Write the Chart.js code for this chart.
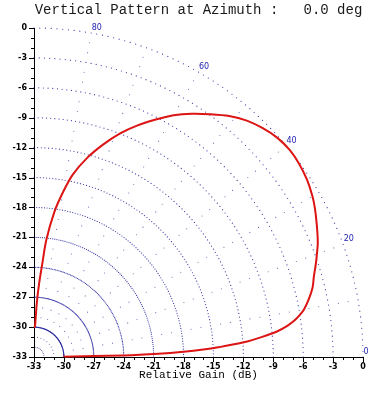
<!DOCTYPE html>
<html>
<head>
<meta charset="utf-8">
<script src="https://cdn.jsdelivr.net/npm/chart.js@4.4.0/dist/chart.umd.min.js"></script>
<style>
  html, body { margin: 0; padding: 0; background: #fff; }
</style>
</head>
<body>
<canvas id="pattern" width="375" height="397"></canvas>
<script>
// Vertical pattern: elevation angle (deg) vs relative gain (dB)
const elevations = [0, 0.5, 1, 1.5, 2, 2.5, 3, 4, 5, 6, 7, 8, 9, 10, 12, 14, 16, 18, 20, 22, 25, 28, 30, 33, 36, 39,
  42, 45, 48, 51, 54, 57, 60, 63, 66, 69, 72, 75, 78, 80, 82, 84, 85, 86, 87, 88, 89, 90];
const gains = [-30, -30, -24, -20.5, -18, -16, -14.5, -11.9, -10.1, -8.5, -7.4, -6.6, -6.0, -5.5, -4.8, -4.2, -3.8, -3.3, -2.8, -2.3, -1.7, -1.1, -0.75, -0.35, -0.1, 0,
  -0.15, -0.55, -1.1, -1.9, -2.9, -3.9, -5.0, -6.3, -7.6, -9.0, -10.6, -12.3, -14.3, -16.2, -18.3, -21.2, -23.8, -25.6, -27.5, -29.8, -30, -30];

// axes / grid
const floorDb = -33;
const gainTicks = [-33, -30, -27, -24, -21, -18, -15, -12, -9, -6, -3, 0];
const ringRadii = [3, 6, 9, 12, 15, 18, 21, 24, 27, 30, 33];
const spokeAngles = [10, 20, 30, 40, 50, 60, 70, 80];
const angleLabels = [80, 60, 40, 20, 0];

// polar (elevation, dB) -> x/y in dB, centred on the bottom-left corner
function toXY(deg, db) {
  const r = db - floorDb;
  const a = deg * Math.PI / 180;
  return { x: floorDb + r * Math.cos(a), y: floorDb + r * Math.sin(a) };
}

const patternPoints = elevations.map((e, i) => toXY(e, gains[i]));

const ringPoints = [];
ringRadii.forEach(r => {
  for (let d = 0; d <= 90; d++) ringPoints.push(toXY(d, floorDb + r));
});

const spokePoints = [];
spokeAngles.forEach(d => {
  for (let r = 1; r <= 33; r++) {
    if (r % 3 !== 0) spokePoints.push(toXY(d, floorDb + r));
  }
});

// minor ticks, angle labels
const polarExtras = {
  id: 'polarExtras',
  afterDraw(chart) {
    const { ctx, chartArea: area, scales: { x, y } } = chart;
    ctx.save();
    ctx.strokeStyle = '#000';
    ctx.lineWidth = 1;
    ctx.beginPath();
    for (let v = floorDb; v <= 0; v++) {
      const len = v % 3 === 0 ? 5 : 3;
      const px = Math.round(x.getPixelForValue(v)) + 0.5;
      ctx.moveTo(px, area.bottom);
      ctx.lineTo(px, area.bottom + len);
      const py = Math.round(y.getPixelForValue(v)) + 0.5;
      ctx.moveTo(area.left, py);
      ctx.lineTo(area.left - len, py);
    }
    ctx.stroke();

    ctx.fillStyle = '#1c1cb0';
    ctx.font = '8px "DejaVu Sans"';
    ctx.textAlign = 'left';
    ctx.textBaseline = 'alphabetic';
    angleLabels.forEach(deg => {
      const p = toXY(deg, 0);
      ctx.fillText(String(deg), x.getPixelForValue(p.x) + 0.5, y.getPixelForValue(p.y) - 3);
    });
    ctx.restore();
  }
};

new Chart(document.getElementById('pattern'), {
  type: 'scatter',
  data: {
    datasets: [
      {
        data: patternPoints,
        showLine: true,
        borderColor: '#dc1414',
        borderWidth: 2,
        pointRadius: 0,
        tension: 0.3,
        clip: false
      },
      {
        data: ringPoints,
        pointRadius: 0.6,
        pointBorderWidth: 0,
        backgroundColor: 'rgba(24, 24, 150, 0.85)',
        clip: false
      },
      {
        data: spokePoints,
        pointRadius: 0.55,
        pointBorderWidth: 0,
        backgroundColor: 'rgba(40, 40, 140, 0.7)'
      }
    ]
  },
  options: {
    responsive: false,
    animation: false,
    events: [],
    layout: { padding: { right: 12 } },
    plugins: {
      legend: { display: false },
      tooltip: { enabled: false },
      title: {
        display: true,
        text: 'Vertical Pattern at Azimuth :   0.0 deg',
        fullSize: false,
        color: '#1a1a1a',
        font: { family: 'Liberation Mono', size: 14, weight: 'normal' },
        padding: { top: 2, bottom: 9.2 }
      }
    },
    scales: {
      x: {
        type: 'linear',
        min: floorDb,
        max: 0,
        afterFit(scale) { scale.height = 40; },
        afterBuildTicks(scale) { scale.ticks = gainTicks.map(v => ({ value: v })); },
        grid: { display: false, drawTicks: false },
        border: { display: true, color: '#000', width: 1 },
        ticks: {
          color: '#000',
          font: { family: 'DejaVu Sans', size: 8, weight: 'bold' },
          padding: 5,
          maxRotation: 0,
          autoSkip: false
        },
        title: {
          display: true,
          text: 'Relative Gain (dB)',
          color: '#000',
          font: { family: 'Liberation Mono', size: 11 },
          padding: { top: 0, bottom: 15 }
        }
      },
      y: {
        type: 'linear',
        min: floorDb,
        max: 0,
        afterFit(scale) { scale.width = 34; },
        afterBuildTicks(scale) { scale.ticks = gainTicks.map(v => ({ value: v })); },
        grid: { display: false, drawTicks: false },
        border: { display: true, color: '#000', width: 1 },
        ticks: {
          color: '#000',
          font: { family: 'DejaVu Sans', size: 8, weight: 'bold' },
          padding: 7,
          autoSkip: false
        }
      }
    }
  },
  plugins: [polarExtras]
});
</script>
</body>
</html>
